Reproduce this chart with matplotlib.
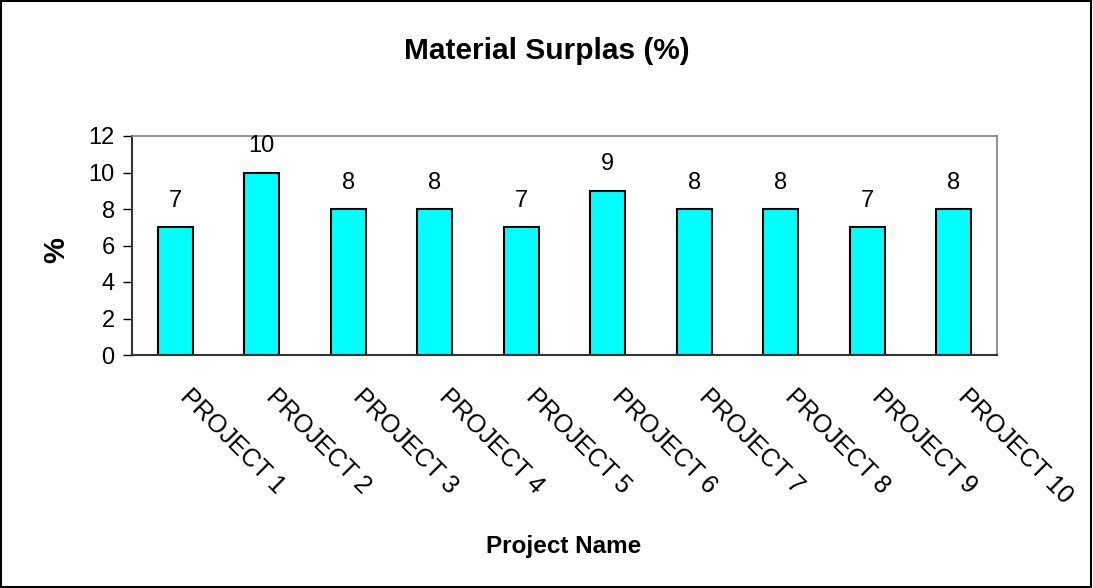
import numpy as np
import matplotlib.pyplot as plt
from matplotlib.patches import Rectangle
from matplotlib.transforms import ScaledTranslation

projects = ["PROJECT 1", "PROJECT 2", "PROJECT 3", "PROJECT 4", "PROJECT 5",
            "PROJECT 6", "PROJECT 7", "PROJECT 8", "PROJECT 9", "PROJECT 10"]
surplus = [7, 10, 8, 8, 7, 9, 8, 8, 7, 8]

plt.rcParams['font.family'] = ['Liberation Sans', 'DejaVu Sans']

fig = plt.figure(figsize=(10.93, 5.88), dpi=100)
ax = fig.add_axes([132 / 1093, 1 - 355 / 588, (997 - 132) / 1093, (355 - 136) / 588])

x = np.arange(len(projects))
ax.bar(x, surplus, width=0.4, color="#00ffff", edgecolor="black", linewidth=1.5)
for xi, v in zip(x, surplus):
    ax.annotate(str(v), (xi, v), xytext=(0, 11), textcoords="offset points",
                ha="center", va="bottom", fontsize=17)

ax.set_xlim(-0.5, len(projects) - 0.5)
ax.set_ylim(0, 12)
ax.set_yticks(range(0, 13, 2))
ax.tick_params(axis="y", labelsize=17, length=6.5, width=1, direction="out", pad=6)
ax.tick_params(axis="x", length=0, pad=0)
ax.set_xticks(x)
ax.set_xticklabels(projects, rotation=-45, ha="left", va="top",
                   rotation_mode="anchor", fontsize=18)
# shift the slanted labels down and to the right
shift = ScaledTranslation(17 / 100, -30 / 100, fig.dpi_scale_trans)
for lab in ax.get_xticklabels():
    lab.set_transform(lab.get_transform() + shift)

for side in ["top", "right"]:
    ax.spines[side].set_color("#808080")
    ax.spines[side].set_linewidth(1.2)
for side in ["left", "bottom"]:
    ax.spines[side].set_color("#333333")
    ax.spines[side].set_linewidth(1.5)

fig.text(0.5, 1 - 51 / 588, "Material Surplas (%)", ha="center", va="center",
         fontsize=21.5, fontweight="bold")
fig.text(564 / 1093, 1 - 547 / 588, "Project Name", ha="center", va="center",
         fontsize=17.5, fontweight="bold")
fig.text(56 / 1093, 1 - 250 / 588, "%", ha="center", va="center", rotation=90,
         fontsize=21, fontweight="bold")

fig.patches.append(Rectangle((0.001, 0.001), 0.997, 0.997, transform=fig.transFigure,
                             fill=False, edgecolor="black", linewidth=1.5))

fig.savefig("out.png", dpi=100)
